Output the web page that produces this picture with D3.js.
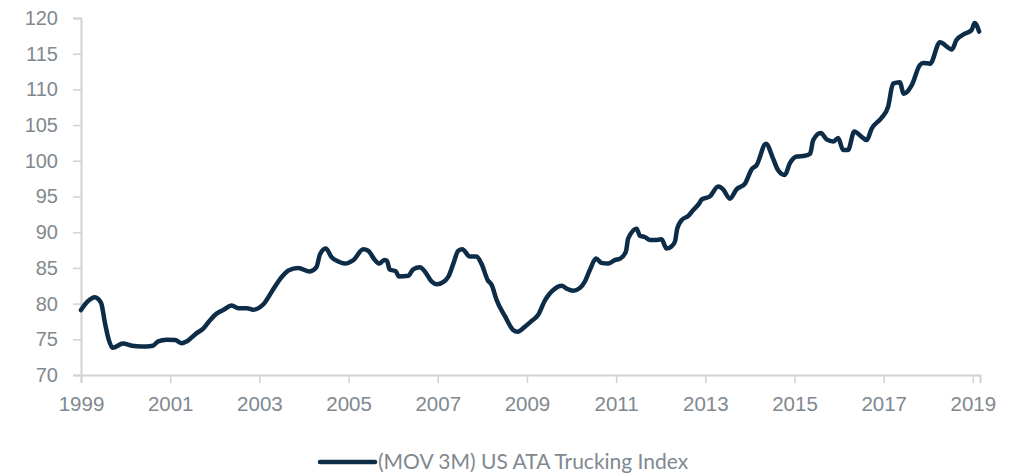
<!DOCTYPE html>
<html>
<head>
<meta charset="utf-8">
<script src="https://cdn.jsdelivr.net/npm/d3@7"></script>
<style>
	body { margin: 0; background: #fff; }
	svg { display: block; font-family: "Source Sans Pro", Lato, "Open Sans", sans-serif; }
</style>
</head>
<body>
<svg id="chart" width="1025" height="474"></svg>
<script>
// decimal year, index value
var dates = [
	1999.00, 1999.15, 1999.31, 1999.45, 1999.54, 1999.62, 1999.71, 1999.94, 2000.14, 2000.36,
	2000.47, 2000.61, 2000.73, 2000.92, 2001.11, 2001.26, 2001.37, 2001.58, 2001.74, 2001.87,
	2002.04, 2002.19, 2002.38, 2002.53, 2002.72, 2002.86, 2003.09, 2003.28, 2003.46, 2003.65,
	2003.87, 2004.13, 2004.28, 2004.36, 2004.49, 2004.62, 2004.77, 2004.92, 2005.11, 2005.33,
	2005.44, 2005.59, 2005.69, 2005.80, 2005.86, 2005.92, 2006.06, 2006.13, 2006.34, 2006.45,
	2006.60, 2006.71, 2006.86, 2006.98, 2007.12, 2007.24, 2007.35, 2007.46, 2007.55, 2007.72,
	2007.87, 2007.98, 2008.12, 2008.21, 2008.32, 2008.51, 2008.69, 2008.79, 2008.96, 2009.11,
	2009.25, 2009.40, 2009.63, 2009.78, 2009.89, 2010.04, 2010.19, 2010.30, 2010.41, 2010.55,
	2010.67, 2010.82, 2010.97, 2011.09, 2011.22, 2011.27, 2011.46, 2011.53, 2011.65, 2011.76,
	2011.87, 2012.02, 2012.13, 2012.24, 2012.32, 2012.37, 2012.47, 2012.62, 2012.73, 2012.86,
	2012.92, 2013.10, 2013.29, 2013.40, 2013.55, 2013.70, 2013.89, 2014.04, 2014.15, 2014.36,
	2014.52, 2014.63, 2014.78, 2014.90, 2015.05, 2015.23, 2015.35, 2015.42, 2015.59, 2015.72,
	2015.87, 2015.98, 2016.09, 2016.20, 2016.34, 2016.50, 2016.62, 2016.73, 2016.95, 2017.10,
	2017.21, 2017.36, 2017.45, 2017.63, 2017.81, 2017.89, 2018.04, 2018.26, 2018.53, 2018.63,
	2018.82, 2018.97, 2019.04, 2019.14
];
var values = [
	79.1, 80.3, 80.9, 80.1, 77.2, 75.0, 73.8, 74.4, 74.1, 74.0,
	74.0, 74.1, 74.7, 74.95, 74.9, 74.45, 74.7, 75.8, 76.5, 77.5,
	78.6, 79.1, 79.75, 79.35, 79.35, 79.15, 79.9, 81.7, 83.4, 84.65,
	85.0, 84.5, 85.1, 86.9, 87.7, 86.5, 85.9, 85.6, 86.1, 87.6,
	87.4, 86.1, 85.6, 86.1, 86.0, 84.8, 84.5, 83.8, 83.9, 84.8,
	85.1, 84.5, 83.1, 82.7, 83.0, 83.8, 85.6, 87.4, 87.6, 86.6,
	86.6, 85.6, 83.3, 82.6, 80.5, 78.2, 76.3, 76.05, 76.8, 77.6,
	78.4, 80.4, 82.1, 82.5, 82.1, 81.8, 82.2, 83.1, 84.7, 86.3,
	85.7, 85.6, 86.1, 86.3, 87.3, 89.1, 90.5, 89.5, 89.3, 88.9,
	88.9, 89.0, 87.7, 88.0, 88.7, 90.5, 91.7, 92.3, 93.1, 94.0,
	94.6, 95.0, 96.4, 96.0, 94.7, 96.0, 96.8, 98.8, 99.4, 102.4,
	100.3, 98.7, 98.0, 99.7, 100.6, 100.7, 101.0, 102.9, 103.9, 103.0,
	102.7, 103.2, 101.5, 101.5, 104.1, 103.4, 102.9, 104.5, 106.0, 107.6,
	110.8, 111.0, 109.4, 110.6, 113.4, 113.7, 113.6, 116.6, 115.6, 116.9,
	117.8, 118.3, 119.3, 118.1
];
var xTicks = [1999, 2001, 2003, 2005, 2007, 2009, 2011, 2013, 2015, 2017, 2019];
var yTicks = [70, 75, 80, 85, 90, 95, 100, 105, 110, 115, 120];
var seriesName = "(MOV 3M) US ATA Trucking Index";

var	lineColor	= "#0c2c48",
	textColor	= "#7f898f",
	axisColor	= "#d2d2d2";

var	svg	= d3.select("#chart"),
	x	= d3.scaleLinear().domain([1999, 2019.16]).range([81, 980]),
	y	= d3.scaleLinear().domain([70, 120]).range([375, 18]);

var data = dates.map(function(d, i) { return { t: d, v: values[i] }; });

function xAxisLine(g) {
	g.call(d3.axisBottom(x).tickValues(xTicks).tickFormat(d3.format("d")).tickSizeOuter(0).tickSize(8).tickPadding(13));
	g.select(".domain").attr("stroke", axisColor).style("stroke-width", "2px");
	g.selectAll(".tick line").attr("stroke", axisColor).style("stroke-width", "1.5px");
	g.selectAll(".tick text").attr("fill", textColor).style("font-size", "20.5px");
}
function yAxisLine(g) {
	g.call(d3.axisLeft(y).tickValues(yTicks).tickSizeOuter(0).tickSize(8).tickPadding(15));
	g.select(".domain").attr("stroke", axisColor).style("stroke-width", "2px");
	g.selectAll(".tick line").attr("stroke", axisColor).style("stroke-width", "1.5px");
	g.selectAll(".tick text").attr("fill", textColor).style("font-size", "20px");
}

svg.append("g").attr("class", "x axis").attr("transform", "translate(0," + y(70) + ")").call(xAxisLine);
svg.append("g").attr("class", "y axis").attr("transform", "translate(" + x(1999) + ",0)").call(yAxisLine);

var line = d3.line()
	.x(function(d) { return x(d.t); })
	.y(function(d) { return y(d.v); })
	.curve(d3.curveMonotoneX);

svg.append("path")
	.datum(data)
	.attr("fill", "none")
	.attr("stroke", lineColor)
	.attr("stroke-width", 4.5)
	.attr("stroke-linejoin", "round")
	.attr("stroke-linecap", "round")
	.attr("d", line);

// legend
var legend = svg.append("g").attr("class", "legend").attr("transform", "translate(320,462)");
legend.append("line")
	.attr("x1", 0).attr("x2", 55).attr("y1", 0).attr("y2", 0)
	.attr("stroke", lineColor).attr("stroke-width", 4.5).attr("stroke-linecap", "round");
legend.append("text")
	.attr("x", 58).attr("y", 7)
	.attr("fill", textColor)
	.style("font-size", "21px")
	.text(seriesName);
</script>
</body>
</html>
